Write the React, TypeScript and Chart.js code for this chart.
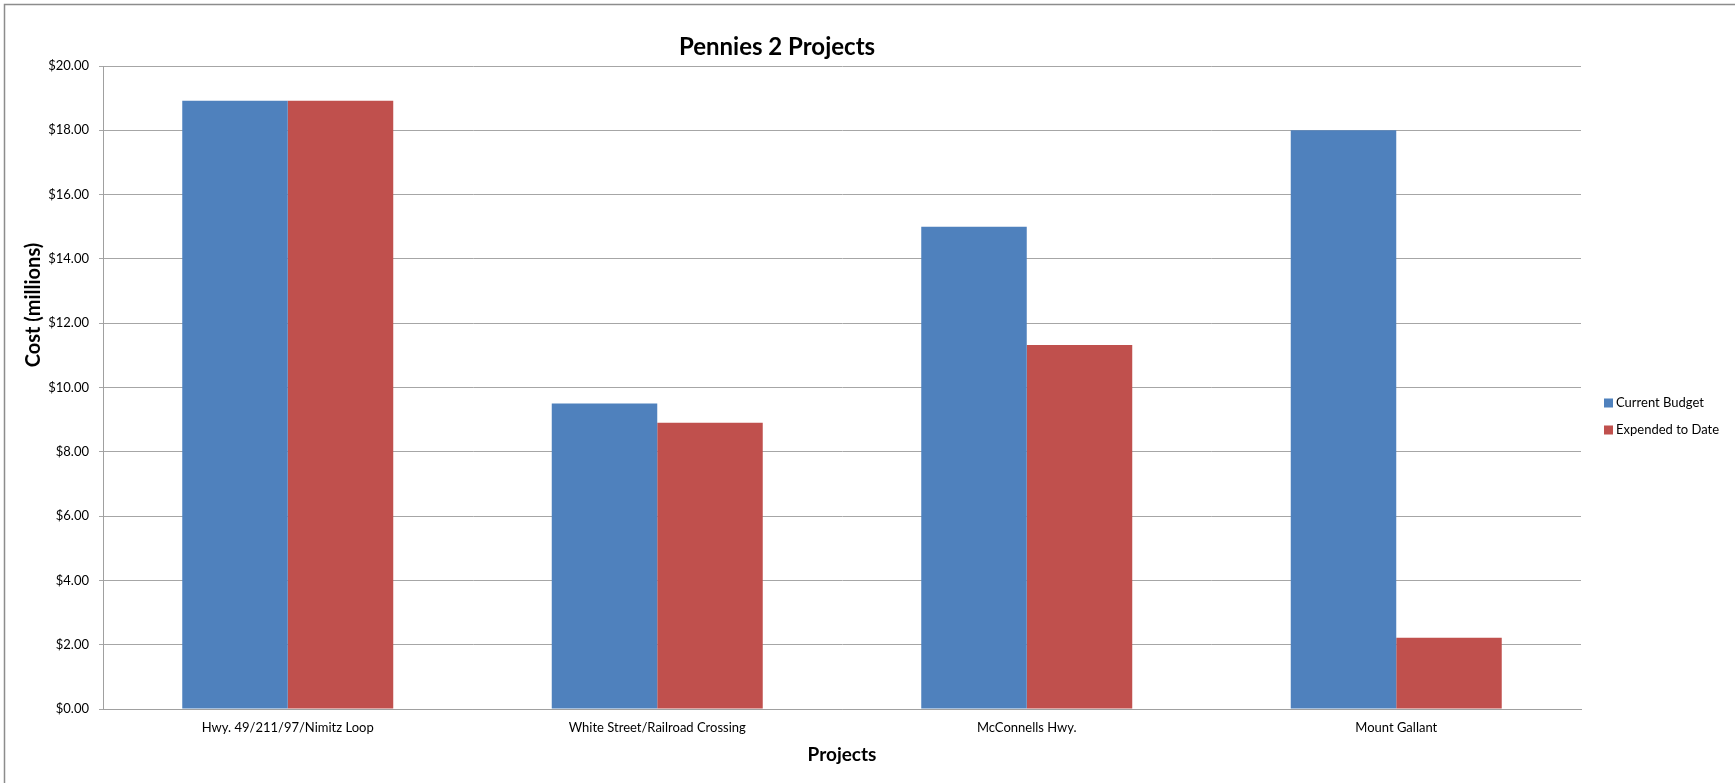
import React, { useEffect, useRef } from "react";
import { Chart, registerables } from "chart.js";

Chart.register(...registerables);

const categories = [
  "Hwy. 49/211/97/Nimitz Loop",
  "White Street/Railroad Crossing",
  "McConnells Hwy.",
  "Mount Gallant",
];
const currentBudget = [18.92, 9.5, 15.0, 18.0];
const expendedToDate = [18.92, 8.9, 11.32, 2.22];
const seriesNames = ["Current Budget", "Expended to Date"];
const seriesColors = ["#4F81BD", "#C0504D"];
const chartTitle = "Pennies 2 Projects";
const xTitle = "Projects";
const yTitle = "Cost (millions)";

const FONT = "Lato, 'Open Sans', sans-serif";

const decorPlugin = {
  id: "decor",
  beforeDraw(chart: any) {
    const ctx = chart.ctx;
    ctx.save();
    ctx.fillStyle = "#ffffff";
    ctx.fillRect(0, 0, chart.width, chart.height);
    ctx.strokeStyle = "#8c8c8c";
    ctx.lineWidth = 1.5;
    ctx.beginPath();
    ctx.moveTo(4.5, chart.height + 2);
    ctx.lineTo(4.5, 4.5);
    ctx.lineTo(chart.width + 2, 4.5);
    ctx.stroke();
    ctx.restore();
  },
  afterDraw(chart: any) {
    const ctx = chart.ctx;
    const area = chart.chartArea;
    ctx.save();
    ctx.fillStyle = "#000000";
    // title
    ctx.font = `bold 24px ${FONT}`;
    ctx.textAlign = "center";
    ctx.textBaseline = "alphabetic";
    ctx.fillText(chartTitle, 777, 55);
    // x title
    ctx.font = `bold 19px ${FONT}`;
    ctx.fillText(xTitle, (area.left + area.right) / 2, 761);
    // y title
    ctx.save();
    ctx.font = `bold 20px ${FONT}`;
    ctx.translate(34, 305);
    ctx.rotate(-Math.PI / 2);
    ctx.textBaseline = "middle";
    ctx.fillText(yTitle, 0, 0);
    ctx.restore();
    // legend
    ctx.font = `13px ${FONT}`;
    ctx.textAlign = "left";
    ctx.textBaseline = "middle";
    const rows = [403, 430];
    chart.data.datasets.forEach((ds: any, i: number) => {
      const y = rows[i];
      ctx.fillStyle = ds.backgroundColor;
      ctx.fillRect(1604, y - 4.5, 9, 9);
      ctx.fillStyle = "#000000";
      ctx.fillText(ds.label, 1616, y);
    });
    ctx.restore();
  },
};

export default function App() {
  const canvasRef = useRef<HTMLCanvasElement | null>(null);

  useEffect(() => {
    const canvas = canvasRef.current;
    if (!canvas) return;
    const chart = new Chart(canvas, {
      type: "bar",
      data: {
        labels: categories,
        datasets: [
          {
            label: seriesNames[0],
            data: currentBudget,
            backgroundColor: seriesColors[0],
            borderWidth: 0,
            categoryPercentage: 0.571,
            barPercentage: 1.0,
          },
          {
            label: seriesNames[1],
            data: expendedToDate,
            backgroundColor: seriesColors[1],
            borderWidth: 0,
            categoryPercentage: 0.571,
            barPercentage: 1.0,
          },
        ],
      },
      options: {
        responsive: false,
        animation: false,
        layout: { padding: { left: 3, top: 66, right: 154, bottom: 0 } },
        plugins: {
          legend: { display: false },
          title: { display: false },
          tooltip: { enabled: false },
        },
        scales: {
          x: {
            afterFit: (s: any) => {
              s.height = 74;
            },
            grid: { display: false, drawTicks: false },
            border: { display: true, color: "#a0a0a0" },
            ticks: {
              color: "#000000",
              font: { family: FONT, size: 13 },
              padding: 11,
              maxRotation: 0,
              autoSkip: false,
            },
          },
          y: {
            min: 0,
            max: 20,
            afterFit: (s: any) => {
              s.width = 100;
            },
            grid: { color: "#a6a6a6", lineWidth: 1, tickLength: 4, drawTicks: true },
            border: { display: true, color: "#a0a0a0" },
            ticks: {
              stepSize: 2,
              color: "#000000",
              font: { family: FONT, size: 13 },
              padding: 10,
              callback: (v: any) => "$" + Number(v).toFixed(2),
            },
          },
        },
      },
      plugins: [decorPlugin],
    });
    return () => chart.destroy();
  }, []);

  return (
    <div style={{ position: "fixed", left: 0, top: 0, width: 1735, height: 783 }}>
      <canvas ref={canvasRef} width={1735} height={783} style={{ display: "block" }} />
    </div>
  );
}
